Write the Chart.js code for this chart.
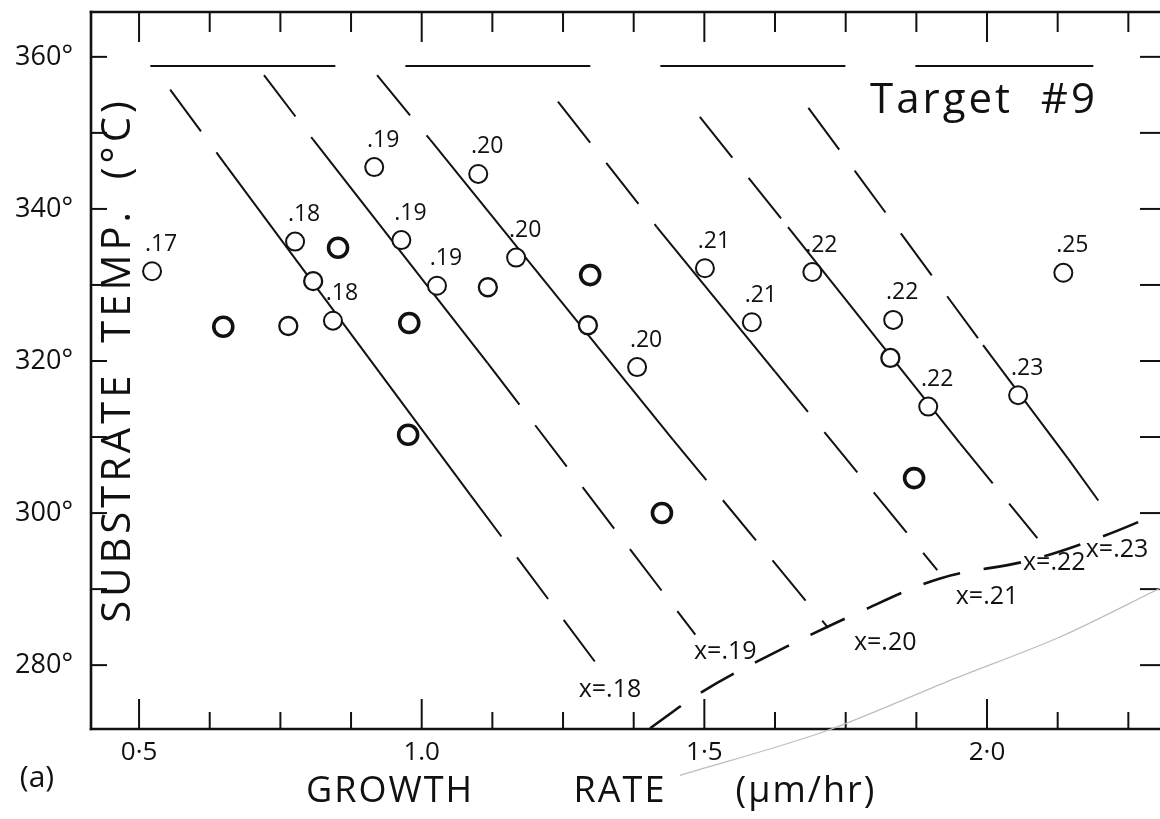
<!DOCTYPE html>
<html>
<head>
<meta charset="utf-8">
<title>Substrate temperature vs growth rate - Target #9</title>
<script src="https://cdn.jsdelivr.net/npm/chart.js@4.4.1/dist/chart.umd.min.js"></script>
<style>
  html, body { margin: 0; padding: 0; background: #fff; }
  #chart { display: block; }
</style>
</head>
<body>
<canvas id="chart" width="1160" height="819"></canvas>
<script>
// Axis ticks
const xMajorValues = [0.5, 1.0, 1.5, 2.0];
const xMajorText = ['0·5', '1.0', '1·5', '2·0'];
const yTickValues = [280, 290, 300, 310, 320, 330, 340, 350, 360];

// Circles with a composition label next to them
const labeledX = [0.523, 0.776, 0.843, 0.916, 0.964, 1.027, 1.100, 1.167, 1.381, 1.501, 1.584, 1.691, 1.834, 1.896, 2.055, 2.135];
const labeledY = [331.8, 335.7, 325.3, 345.5, 335.9, 329.9, 344.6, 333.6, 319.2, 332.2, 325.1, 331.7, 325.4, 314.0, 315.5, 331.6];
const labeledComp = ['.17', '.18', '.18', '.19', '.19', '.19', '.20', '.20', '.20', '.21', '.21', '.22', '.22', '.22', '.23', '.25'];

// Plain circles without label
const plainX = [0.764, 0.808, 1.117, 1.294, 1.829];
const plainY = [324.6, 330.5, 329.7, 324.7, 320.4];

// Heavy circles
const boldX = [0.649, 0.852, 0.978, 0.976, 1.298, 1.425, 1.871];
const boldY = [324.5, 334.9, 325.0, 310.3, 331.3, 300.0, 304.6];

// Iso-composition lines: top, start of solid part, end of solid part, bottom
const isoNames = ['x=.18', 'x=.19', 'x=.20', 'x=.21', 'x=.22', 'x=.23'];
const isoX = [
  [0.555, 0.656, 1.086, 1.324],
  [0.721, 0.808, 1.117, 1.484],
  [0.921, 1.015, 1.445, 1.719],
  [1.241, 1.416, 1.625, 1.912],
  [1.492, 1.648, 1.952, 2.089],
  [1.684, 1.993, 2.143, 2.209]
];
const isoY = [
  [355.7, 345.5, 302.4, 278.7],
  [357.6, 349.1, 319.7, 284.0],
  [357.6, 349.1, 309.6, 284.9],
  [354.1, 337.6, 318.6, 292.5],
  [352.1, 337.6, 309.2, 296.7],
  [353.3, 322.1, 307.2, 300.4]
];
const isoLabelX = [1.333, 1.537, 1.820, 2.000, 2.119, 2.230];
const isoLabelY = [276.7, 281.7, 282.9, 289.0, 293.4, 295.1];

// Horizontal dashed line near the top
const topLineX = [0.520, 2.188];
const topLineY = [358.8, 358.8];

// Dashed boundary curve through the line ends
const edgeX = [1.404, 1.492, 1.599, 1.775, 1.917, 2.076, 2.200, 2.306];
const edgeY = [271.7, 276.3, 280.7, 287.0, 291.4, 293.8, 296.8, 300.0];

// Faint pencil curve
const faintX = [1.457, 1.710, 1.935, 2.129, 2.306];
const faintY = [265.5, 271.2, 278.0, 283.7, 290.1];

const INK = '#111';
const FONT = '"Open Sans", "Liberation Sans", sans-serif';

const pts = (xs, ys) => xs.map((x, i) => ({ x: x, y: ys[i] }));

const datasets = [];
datasets.push({
  label: 'top', data: pts(topLineX, topLineY), showLine: true,
  borderColor: INK, borderWidth: 2.2, borderDash: [185, 70], pointRadius: 0, order: 2
});
isoNames.forEach((name, i) => {
  datasets.push({
    label: name, data: pts(isoX[i], isoY[i]), showLine: true,
    borderColor: INK, borderWidth: 2, borderDash: [52, 26], pointRadius: 0, order: 2,
    segment: { borderDash: c => (c.p0DataIndex === 1 ? [] : [52, 26]) }
  });
});
datasets.push({
  label: 'edge', data: pts(edgeX, edgeY), showLine: true, tension: 0.35,
  borderColor: INK, borderWidth: 2.6, borderDash: [38, 24], pointRadius: 0, order: 2
});
datasets.push({
  label: 'faint', data: pts(faintX, faintY), showLine: true, tension: 0.3, clip: false,
  borderColor: '#bdbdbd', borderWidth: 1.2, pointRadius: 0, order: 3
});
datasets.push({
  label: 'labeled', data: pts(labeledX, labeledY), showLine: false,
  pointStyle: 'circle', pointRadius: 9, borderWidth: 2,
  borderColor: INK, backgroundColor: '#fff', order: 0
});
datasets.push({
  label: 'plain', data: pts(plainX, plainY), showLine: false,
  pointStyle: 'circle', pointRadius: 9, borderWidth: 2.3,
  borderColor: INK, backgroundColor: '#fff', order: 0
});
datasets.push({
  label: 'bold', data: pts(boldX, boldY), showLine: false,
  pointStyle: 'circle', pointRadius: 9.5, borderWidth: 3.6,
  borderColor: INK, backgroundColor: '#fff', order: 0
});

function line(ctx, x1, y1, x2, y2) {
  ctx.beginPath();
  ctx.moveTo(x1, y1);
  ctx.lineTo(x2, y2);
  ctx.stroke();
}

// no automatic padding for edge labels: frame sits at fixed place
function noPad(s) {
  s.paddingTop = 0;
  s.paddingBottom = 0;
  s.paddingLeft = 0;
  s.paddingRight = 0;
}

const sketchPlugin = {
  id: 'sketch',
  beforeDatasetsDraw(chart) {
    const ctx = chart.ctx;
    const ca = chart.chartArea;
    const xs = chart.scales.x, ys = chart.scales.y;
    ctx.save();
    ctx.strokeStyle = INK;
    ctx.lineCap = 'square';
    ctx.lineWidth = 2.6;
    line(ctx, ca.left, ca.top, ca.left, ca.bottom);
    line(ctx, ca.left, ca.bottom, ca.right, ca.bottom);
    line(ctx, ca.left, ca.top, ca.right, ca.top);
    ctx.lineWidth = 2;
    ctx.lineCap = 'butt';
    xs.ticks.forEach(t => {
      const px = xs.getPixelForValue(t.value);
      const major = Math.abs(t.value * 2 - Math.round(t.value * 2)) < 1e-6;
      line(ctx, px, ca.bottom, px, ca.bottom - (major ? 30 : 17));
      line(ctx, px, ca.top, px, ca.top + (major ? 30 : 20));
    });
    ys.ticks.forEach(t => {
      const py = ys.getPixelForValue(t.value);
      line(ctx, ca.left, py, ca.left + 16, py);
      line(ctx, ca.right, py, ca.right - 20, py);
    });
    ctx.restore();
  },
  afterDatasetsDraw(chart) {
    const ctx = chart.ctx;
    const ca = chart.chartArea;
    const xs = chart.scales.x, ys = chart.scales.y;
    ctx.save();
    ctx.fillStyle = INK;
    ctx.textAlign = 'center';
    ctx.textBaseline = 'middle';

    // composition labels beside circles
    const meta = chart.getDatasetMeta(datasets.findIndex(d => d.label === 'labeled'));
    ctx.font = '23px ' + FONT;
    meta.data.forEach((p, i) => {
      ctx.fillText(labeledComp[i], p.x + 9, p.y - 27);
    });

    // iso-line names
    ctx.font = '25px ' + FONT;
    isoNames.forEach((name, i) => {
      ctx.fillText(name, xs.getPixelForValue(isoLabelX[i]), ys.getPixelForValue(isoLabelY[i]));
    });

    // sample name
    ctx.font = '42px ' + FONT;
    ctx.letterSpacing = '3px';
    ctx.textAlign = 'left';
    ctx.textBaseline = 'alphabetic';
    ctx.fillText('Target  #9', 870, 113);

    // y axis title, inside the frame
    ctx.save();
    ctx.translate(ca.left + 28, 360);
    ctx.rotate(-Math.PI / 2);
    ctx.textAlign = 'center';
    ctx.textBaseline = 'middle';
    ctx.font = '40px ' + FONT;
    ctx.letterSpacing = '4px';
    ctx.fillText('SUBSTRATE  TEMP.  (°C)', 0, 0);
    ctx.restore();

    // x axis title (hand-lettered words spread out) and panel letter
    ctx.letterSpacing = '2px';
    ctx.textAlign = 'center';
    ctx.textBaseline = 'middle';
    ctx.font = '36px ' + FONT;
    ctx.fillText('GROWTH', 390, 792);
    ctx.fillText('RATE', 620, 792);
    ctx.fillText('(μm/hr)', 806, 792);
    ctx.letterSpacing = '0px';
    ctx.font = '30px ' + FONT;
    ctx.fillText('(a)', 37, 778);
    ctx.restore();
  }
};

new Chart(document.getElementById('chart'), {
  type: 'scatter',
  data: { datasets: datasets },
  options: {
    responsive: false,
    animation: false,
    layout: { autoPadding: false, padding: { left: 0, top: 12, right: 0, bottom: 0 } },
    plugins: { legend: { display: false }, tooltip: { enabled: false } },
    scales: {
      x: {
        type: 'linear', min: 0.415, max: 2.306,
        grid: { display: false, drawTicks: false },
        border: { display: false },
        afterBuildTicks: s => {
          const t = [];
          for (let v = xMajorValues[0]; v <= 2.25 + 1e-9; v += 0.125) t.push({ value: +v.toFixed(3) });
          s.ticks = t;
        },
        afterFit: s => { s.height = 90; noPad(s); },
        ticks: {
          autoSkip: false, maxRotation: 0, padding: 8, color: INK,
          font: { family: FONT, size: 26 },
          callback: v => {
            const k = xMajorValues.findIndex(m => Math.abs(m - v) < 1e-6);
            return k >= 0 ? xMajorText[k] : '';
          }
        }
      },
      y: {
        type: 'linear', min: 271.6, max: 365.9,
        grid: { display: false, drawTicks: false },
        border: { display: false },
        afterBuildTicks: s => { s.ticks = yTickValues.map(v => ({ value: v })); },
        afterFit: s => { s.width = 91; noPad(s); },
        ticks: {
          autoSkip: false, padding: 18, color: INK,
          font: { family: FONT, size: 27 },
          callback: v => (v % 20 === 0 ? v + '°' : '')
        }
      }
    }
  },
  plugins: [sketchPlugin]
});
</script>
</body>
</html>
